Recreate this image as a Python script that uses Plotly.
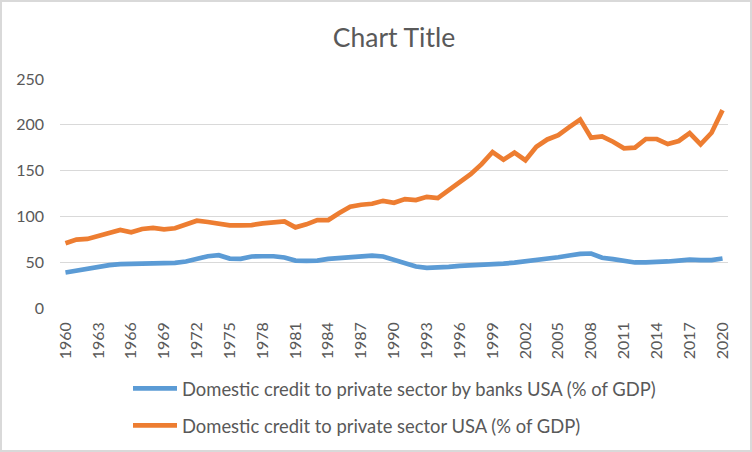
import plotly.graph_objects as go

years = list(range(1960, 2021))

banks = [38.8, 41.0, 42.0, 44.6, 46.8, 47.9, 48.2, 48.2, 48.9, 49.3,
         49.3, 50.8, 54.3, 56.5, 57.6, 54.0, 53.7, 56.2, 56.5, 56.5,
         55.1, 51.8, 51.5, 51.8, 53.7, 54.8, 55.9, 57.2, 57.2, 56.2,
         52.9, 48.3, 45.3, 43.9, 43.9, 45.0, 46.0, 46.4, 47.5, 47.8,
         48.5, 49.5, 50.8, 52.2, 54.0, 55.4, 57.3, 59.1, 59.5, 54.8,
         53.3, 51.1, 49.7, 49.7, 49.7, 50.8, 51.8, 52.9, 52.2, 52.2,
         54.0]

private = [70.6, 74.7, 75.4, 79.0, 82.3, 85.2, 82.6, 86.3, 87.4, 85.9,
           87.0, 90.6, 95.3, 93.9, 91.7, 90.2, 90.2, 90.5, 92.4, 93.5,
           94.6, 88.0, 91.3, 96.0, 96.0, 103.7, 110.5, 112.7, 113.8, 117.0,
           114.9, 118.9, 117.8, 121.4, 120.0, 128.7, 137.0, 146.0, 157.0, 170.3,
           162.0, 169.6, 161.3, 176.0, 184.0, 188.8, 197.5, 205.8, 186.0, 187.4,
           181.5, 174.3, 175.0, 184.5, 184.5, 179.0, 182.3, 191.0, 178.7, 191.3,
           216.0]

tick_years = list(range(1960, 2021, 3))

names = ["Domestic credit to private sector by banks USA (% of GDP)",
         "Domestic credit to private sector USA (% of GDP)"]

FONT = "Lato, Carlito, 'Open Sans', sans-serif"
W, H = 752, 452
ML, MR, MT, MB = 60, 24, 79, 144

fig = go.Figure()
fig.add_trace(go.Scatter(x=years, y=banks, mode="lines", name=names[0],
                         legendgroup="a",
                         line=dict(color="#5B9BD5", width=4.7)))
fig.add_trace(go.Scatter(x=years, y=private, mode="lines", name=names[1],
                         legendgroup="b",
                         line=dict(color="#ED7D31", width=4.7)))

pw = W - ML - MR
ph = H - MT - MB
fig.add_shape(type="rect", xref="paper", yref="paper",
              x0=(1 - ML) / pw, x1=(W - 1 - ML) / pw,
              y0=-(MB - 1) / ph, y1=(ph + MT - 1) / ph,
              line=dict(color="#D9D9D9", width=2), layer="below")

fig.update_layout(
    width=W, height=H,
    margin=dict(l=ML, r=MR, t=MT, b=MB, autoexpand=False),
    paper_bgcolor="white", plot_bgcolor="white",
    font=dict(family=FONT, color="#595959", size=16),
    title=dict(text="Chart Title", x=0.5, xanchor="center", xref="paper",
               y=1 - 38 / H, yanchor="middle",
               font=dict(size=26.5, color="#595959", family=FONT)),
    xaxis=dict(range=[1959.5, 2020.5], tickmode="array", tickvals=tick_years,
               ticktext=[str(y) for y in tick_years], tickangle=-90,
               showgrid=False, zeroline=False, showline=False,
               ticks="", tickfont=dict(size=16, color="#595959"),
               ticklabelstandoff=10),
    yaxis=dict(range=[0, 250], tickvals=[0, 50, 100, 150, 200, 250],
               showgrid=True, gridcolor="#D9D9D9", gridwidth=1.3,
               zeroline=False, showline=False, ticks="",
               tickfont=dict(size=16, color="#595959"),
               ticklabelstandoff=15),
    showlegend=True,
    legend=dict(x=(128 - ML) / pw, xanchor="left",
                y=-(370 - (H - MB)) / ph, yanchor="top",
                orientation="v", tracegroupgap=10, itemwidth=44,
                font=dict(size=18.4, color="#595959", family=FONT),
                bgcolor="rgba(0,0,0,0)"),
)

fig.write_html("out.html",
               config={"displayModeBar": False},
               post_script="document.body.style.margin='0';document.body.style.overflow='hidden';")
